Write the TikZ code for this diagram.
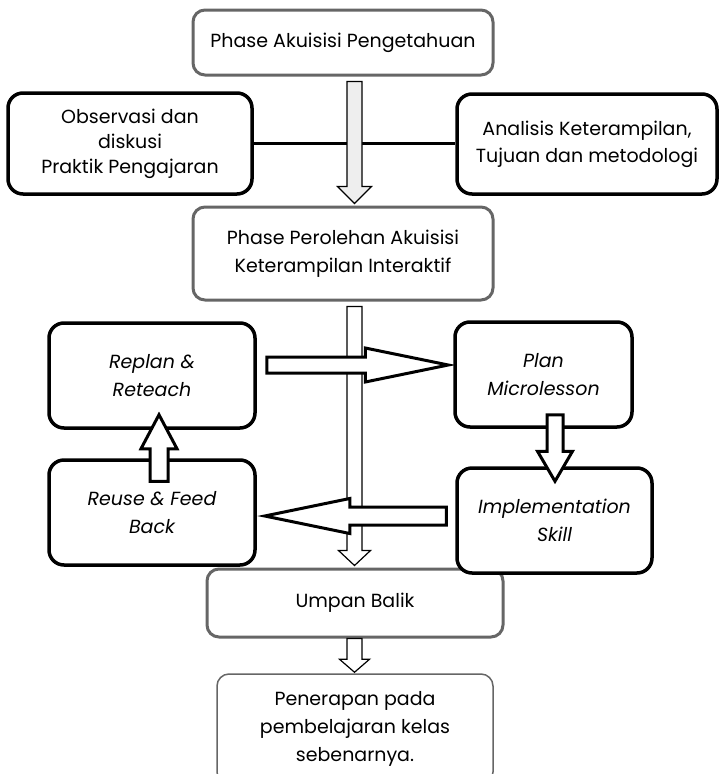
\documentclass[tikz,border=0pt]{standalone}
\usepackage{fontspec}
\setmainfont{Poppins}
\usetikzlibrary{calc}
\definecolor{boxgray}{HTML}{666666}
\definecolor{arrowgray}{HTML}{EEEEEE}
\newcommand{\fatarrow}[6][]{%
\coordinate (fab) at ($(#3)!#6!(#2)$);
\draw[#1] ($(#2)!#4!90:(#3)$) -- ($(fab)!#4!90:(#3)$) -- ($(fab)!#5!90:(#3)$) -- (#3)
  -- ($(fab)!#5!-90:(#3)$) -- ($(fab)!#4!-90:(#3)$) -- ($(#2)!#4!-90:(#3)$) -- cycle;}

\begin{document}
\begin{tikzpicture}[x=1pt,y=-1pt,
font=\fontsize{19}{28}\selectfont,
graybox/.style={draw=boxgray, line width=3pt, rounded corners=12pt, fill=white,
    align=center, inner sep=0pt},
blackbox/.style={draw=black, line width=3.5pt, rounded corners=15pt, fill=white,
    align=center, inner sep=0pt, font=\fontsize{19}{28}\selectfont\itshape},
hollow/.style={draw=black, line width=1.2pt, fill=white, line join=miter},
thickhollow/.style={draw=black, line width=3pt, fill=white, line join=miter}]
\path[use as bounding box, clip] (0,0) rectangle (721,774);

\node[graybox, minimum width=300, minimum height=65] (akuisisi) at (343,42.5)
    {Phase Akuisisi Pengetahuan};
\node[blackbox, font=\fontsize{19}{25}\selectfont, minimum width=244, minimum height=101] (observasi) at (130,143.5)
    {Observasi dan\\diskusi\\Praktik Pengajaran};
\node[blackbox, font=\fontsize{19}{27}\selectfont, minimum width=260, minimum height=100] (analisis) at (587,144)
    {Analisis Keterampilan,\\Tujuan dan metodologi};
\node[graybox, minimum width=300, minimum height=93] (perolehan) at (343,253.5)
    {Phase Perolehan Akuisisi\\Keterampilan Interaktif};
\node[blackbox, minimum width=206, minimum height=105] (replan) at (152,375.5)
    {Replan \&\\Reteach};
\node[blackbox, minimum width=177, minimum height=105] (plan) at (543.5,374.5)
    {Plan\\Microlesson};
\node[blackbox, minimum width=206, minimum height=105] (reuse) at (152,512.5)
    {Reuse \& Feed\\Back};
\node[graybox, minimum width=296, minimum height=68] (umpan) at (355,603)
    {Umpan Balik};
\node[blackbox, minimum width=195, minimum height=105] (impl) at (554.5,520.5)
    {Implementation\\Skill};
\node[graybox, line width=1.5pt, minimum width=276, minimum height=110] (penerapan) at (355,729)
    {Penerapan pada\\pembelajaran kelas\\sebenarnya.};

\draw[line width=3.5pt] (observasi.east) -- (observasi.east -| analisis.west);

\coordinate (a1) at ($(akuisisi.south)+(11.5,5)$);
\coordinate (a2) at ($(perolehan.north)+(11.5,-2)$);
\fatarrow[hollow, fill=arrowgray]{a1}{a2}{7.5pt}{17pt}{17pt}
\coordinate (b1) at ($(perolehan.south)+(11.5,5)$);
\coordinate (b2) at ($(umpan.north)+(-0.5,-2)$);
\fatarrow[hollow]{b1}{b2}{7.5pt}{16pt}{15pt}
\coordinate (c1) at ($(replan.east)+(10,-10.5)$);
\coordinate (c2) at ($(plan.west)+(-5,-9.5)$);
\fatarrow[thickhollow]{c1}{c2}{8pt}{17pt}{83pt}
\coordinate (d1) at ($(impl.west)+(-9,-4.5)$);
\coordinate (d2) at ($(reuse.east)+(8,3.5)$);
\fatarrow[thickhollow]{d1}{d2}{9pt}{17.5pt}{85pt}
\coordinate (e1) at ($(reuse.north)+(7,23)$);
\coordinate (e2) at ($(replan.south)+(7,-15)$);
\fatarrow[thickhollow]{e1}{e2}{9pt}{18pt}{34pt}
\coordinate (f1) at ($(plan.south)+(11.5,-14)$);
\coordinate (f2) at ($(impl.north)+(0.5,15)$);
\fatarrow[thickhollow]{f1}{f2}{8pt}{17.5pt}{30pt}
\coordinate (g1) at ($(umpan.south)+(-0.5,0)$);
\coordinate (g2) at ($(penerapan.north)+(-0.5,-1)$);
\fatarrow[hollow]{g1}{g2}{7.5pt}{15pt}{13pt}
\end{tikzpicture}
\end{document}
